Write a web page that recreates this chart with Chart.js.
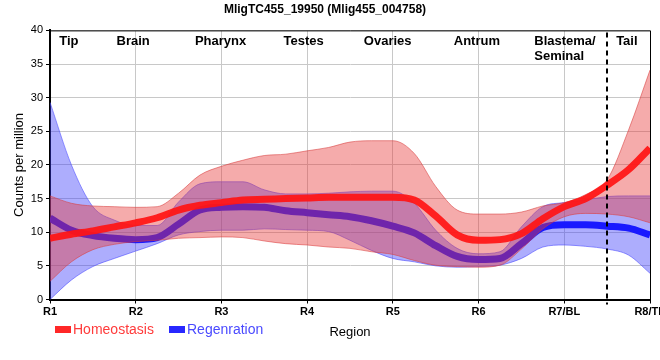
<!DOCTYPE html>
<html>
<head>
<meta charset="utf-8">
<script src="https://cdn.jsdelivr.net/npm/chart.js@4"></script>
<style>
html,body{margin:0;padding:0;background:#fff;}
#wrap{width:660px;height:360px;}
</style>
</head>
<body>
<div id="wrap"><canvas id="c" width="660" height="360"></canvas></div>
<script>
const chartTitle = "MligTC455_19950 (Mlig455_004758)";
const tickLabels = ["R1","R2","R3","R4","R5","R6","R7/BL","R8/TP"];
const regionNames = ["Tip","Brain","Pharynx","Testes","Ovaries","Antrum","Blastema/\nSeminal","Tail"];
const regionAt = [1.22,1.97,2.99,3.96,4.94,5.98,6.65,7.73];
const regionAlign = ["center","center","center","center","center","center","left","center"];
const seriesNames = ["Homeostasis","Regenration"];
const xs = [1,1.25,1.5,1.75,2,2.25,2.5,2.75,3,3.25,3.5,3.75,4,4.25,4.5,4.75,5,5.25,5.5,5.75,6,6.25,6.5,6.75,7,7.25,7.5,7.75,8];

const homeoMean = [9.1,9.7,10.2,10.8,11.4,12.15,13.3,14.0,14.4,14.8,14.9,15.0,15.1,15.2,15.2,15.2,15.2,14.8,12.4,9.6,8.8,8.9,9.8,12.0,13.8,15.0,17.0,19.3,22.5];
const homeoHi   = [15.4,14.3,13.9,13.8,13.7,13.8,15.8,18.5,19.8,20.7,21.4,21.6,22.1,22.6,23.4,23.6,23.6,21.7,16.8,13.3,12.7,12.7,13.0,13.9,14.4,15.6,17.8,25.2,34.1];
const homeoLo   = [2.7,5.6,7.4,8.2,8.6,8.8,9.1,9.2,9.3,9.2,8.7,8.3,8.1,7.8,7.6,7.1,6.7,5.8,5.1,4.9,4.8,5.1,7.5,10.5,12.3,12.8,12.7,12.3,11.4];

const regenMean = [12.1,10.3,9.5,9.1,8.9,9.2,11.2,13.3,13.7,13.8,13.7,13.2,12.9,12.6,12.3,11.7,10.9,9.9,8.0,6.4,5.95,6.1,8.3,10.7,11.1,11.1,10.9,10.6,9.6];
const regenHi   = [29.3,20.0,13.8,11.8,11.0,11.0,14.5,17.2,17.5,17.5,16.3,15.7,15.7,15.8,16.0,16.1,16.1,14.3,10.3,7.6,6.8,7.1,10.8,13.8,14.4,14.8,15.3,15.4,15.4];
const regenLo   = [0,2.9,4.9,6.1,7.2,8.3,9.6,10.1,10.3,10.3,10.5,10.4,10.3,10.1,8.8,7.3,6.1,5.6,5.0,4.8,4.9,5.1,6.1,7.8,8.1,7.9,7.5,6.6,3.9];

const dividerAt = 7.5;
const FONT = "'Liberation Sans', Arial, sans-serif";

function pts(arr){ return xs.map((x,i)=>({x:x,y:arr[i]})); }

const datasets = [
  {label:seriesNames[0], data:pts(homeoMean), borderColor:'rgba(255,20,20,0.93)', borderWidth:7, fill:false, order:0},
  {label:'hHi', data:pts(homeoHi), borderColor:'rgba(215,60,60,0.55)', borderWidth:1, backgroundColor:'rgba(232,55,55,0.42)', fill:'+1', order:1},
  {label:'hLo', data:pts(homeoLo), borderColor:'rgba(215,60,60,0.55)', borderWidth:1, fill:false, order:2},
  {label:seriesNames[1], data:pts(regenMean), borderColor:'rgba(25,25,255,1)', borderWidth:7, fill:false, order:3},
  {label:'rHi', data:pts(regenHi), borderColor:'rgba(80,80,255,0.6)', borderWidth:1, backgroundColor:'rgba(60,60,250,0.42)', fill:'+1', order:4},
  {label:'rLo', data:pts(regenLo), borderColor:'rgba(80,80,255,0.6)', borderWidth:1, fill:false, order:5}
];

const overlay = {
  id:'overlay',
  afterDatasetsDraw(chart){
    const {ctx, chartArea:a, scales:{x}} = chart;
    ctx.save();
    ctx.strokeStyle='#000'; ctx.lineWidth=1;
    ctx.beginPath();
    ctx.moveTo(a.left, a.top+0.5); ctx.lineTo(a.right+0.5, a.top+0.5); ctx.lineTo(a.right+0.5, a.bottom);
    ctx.stroke();
    const dx = Math.round(x.getPixelForValue(dividerAt));
    ctx.lineWidth=2; ctx.setLineDash([5,4]);
    ctx.beginPath(); ctx.moveTo(dx, a.top+2); ctx.lineTo(dx, a.bottom+5); ctx.stroke();
    ctx.setLineDash([]);
    ctx.fillStyle='#000';
    ctx.font = "bold 13px " + FONT;
    ctx.textBaseline='alphabetic';
    regionNames.forEach((name,i)=>{
      const px = x.getPixelForValue(regionAt[i]);
      ctx.textAlign = regionAlign[i];
      name.split("\n").forEach((ln,j)=>{ ctx.fillText(ln, px, 45 + j*14.5); });
    });
    ctx.restore();
  },
  afterDraw(chart){
    const {ctx, chartArea:a} = chart;
    ctx.save();
    ctx.textBaseline='middle';
    ctx.textAlign='left';
    ctx.font = "14px " + FONT;
    const items = [
      {text:seriesNames[0], box:'rgba(255,40,40,1)', color:'#ff3b3b', x:55},
      {text:seriesNames[1], box:'rgba(40,40,255,1)', color:'#4a4aff', x:169}
    ];
    items.forEach(it=>{
      ctx.fillStyle=it.box; ctx.fillRect(it.x, 326, 16, 7);
      ctx.fillStyle=it.color; ctx.fillText(it.text, it.x+18, 330);
    });
    ctx.fillStyle='#000';
    ctx.font = "13px " + FONT;
    ctx.textAlign='center';
    ctx.fillText('Region', (a.left+a.right)/2, 332);
    ctx.restore();
  }
};

new Chart(document.getElementById('c'), {
  type:'line',
  data:{datasets:datasets},
  plugins:[overlay],
  options:{
    responsive:false,
    animation:false,
    devicePixelRatio:1,
    layout:{padding:{left:0,right:10,top:0,bottom:0}, autoPadding:false},
    elements:{point:{radius:0}, line:{cubicInterpolationMode:'monotone', borderCapStyle:'butt'}},
    plugins:{
      legend:{display:false},
      tooltip:{enabled:false},
      title:{display:true, text:chartTitle, color:'#000', font:{family:FONT, size:12, weight:'bold'}, padding:{top:2,bottom:14}}
    },
    scales:{
      x:{
        type:'linear', min:1, max:8,
        afterFit(s){ s.height = 60.5; s.paddingLeft = 0; s.paddingRight = 0; },
        afterBuildTicks(s){ s.ticks = tickLabels.map((t,i)=>({value:i+1})); },
        ticks:{stepSize:1, autoSkip:false, maxRotation:0, color:'#000', padding:2,
          font:{family:FONT,size:11,weight:'bold'},
          callback:(v)=> tickLabels[Math.round(v)-1]},
        grid:{color:'#c8c8c8', lineWidth:1, tickLength:4, tickColor:'#000'},
        border:{color:'#000', width:2},
        title:{display:false}
      },
      y:{
        min:0, max:40,
        afterFit(s){ s.width = 50; s.paddingTop = 0; s.paddingBottom = 0; },
        ticks:{stepSize:5, color:'#000', padding:3, font:{family:FONT,size:11}},
        grid:{color:'#c8c8c8', lineWidth:1, tickLength:4, tickColor:'#000'},
        border:{color:'#000', width:2},
        title:{display:true, text:'Counts per million', color:'#000', font:{family:FONT,size:13}, padding:{top:12,bottom:0}}
      }
    }
  }
});
</script>
</body>
</html>
